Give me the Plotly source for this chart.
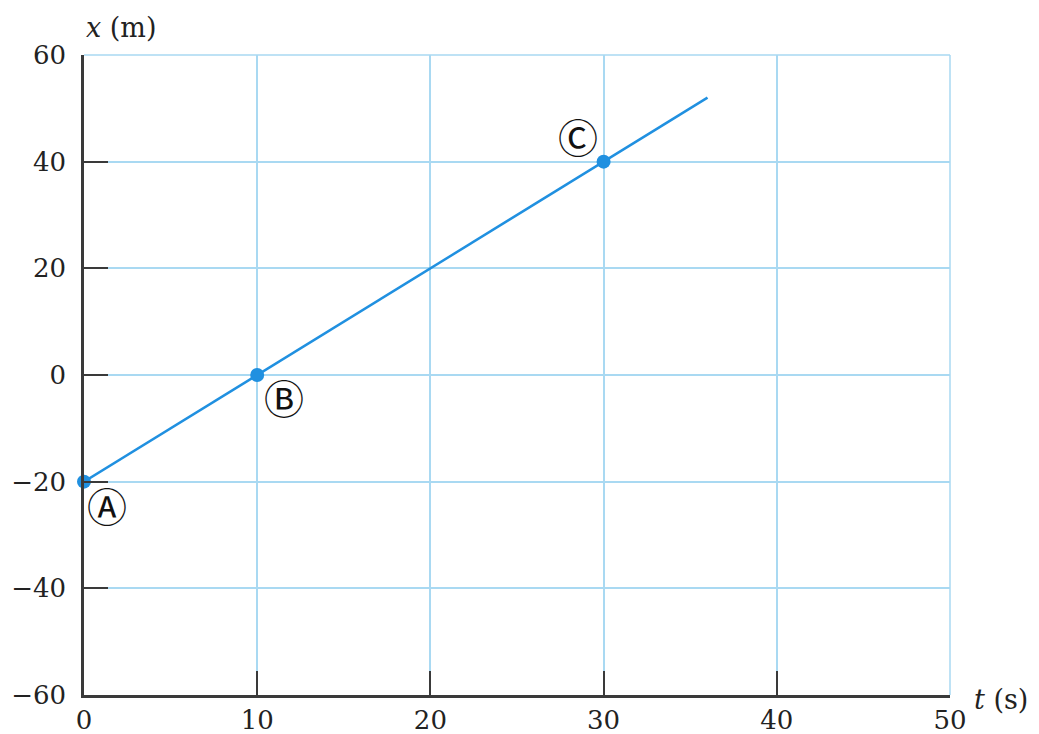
import plotly.graph_objects as go

# Data
line_t = [0, 36]
line_x = [-20, 52]
point_t = [0, 10, 30]
point_x = [-20, 0, 40]
point_labels = ["Ⓐ", "Ⓑ", "Ⓒ"]
label_t = [1.3, 11.55, 28.5]
label_x = [-25.0, -4.6, 44.3]
x_ticks = [0, 10, 20, 30, 40, 50]
y_ticks = [-60, -40, -20, 0, 20, 40, 60]

blue = "#2090e0"
grid = "#a9d9f2"
axis_col = "#3a3a3a"
font_fam = "DejaVu Serif, Liberation Serif, serif"

fig = go.Figure()
fig.add_trace(go.Scatter(x=line_t, y=line_x, mode="lines",
                         line=dict(color=blue, width=2.5), cliponaxis=False,
                         showlegend=False, hoverinfo="skip"))
fig.add_trace(go.Scatter(x=point_t, y=point_x, mode="markers",
                         marker=dict(color=blue, size=14), cliponaxis=False,
                         showlegend=False))

for lt, lx, lab in zip(label_t, label_x, point_labels):
    fig.add_annotation(x=lt, y=lx, xref="x", yref="y", text=lab, showarrow=False,
                       font=dict(family="DejaVu Sans, Noto Sans CJK SC", size=40, color="#111"))

fig.add_annotation(x=0.0, y=1.0, xref="paper", yref="paper", yanchor="bottom",
                   xanchor="left", yshift=10,
                   text="<i>x</i> (m)", showarrow=False,
                   font=dict(family=font_fam, size=27, color="#222"))
fig.add_annotation(x=1.0, y=0.0, xref="paper", yref="paper", xanchor="left",
                   yanchor="middle", xshift=22, yshift=-4,
                   text="<i>t</i> (s)", showarrow=False,
                   font=dict(family=font_fam, size=27, color="#222"))

fig.update_layout(
    width=1039, height=734,
    margin=dict(l=76, r=97, t=47, b=47, autoexpand=False),
    paper_bgcolor="white", plot_bgcolor="white",
    font=dict(family=font_fam, size=26, color="#222"),
    xaxis=dict(range=[0, 50], tickvals=x_ticks, showgrid=True, gridcolor=grid,
               gridwidth=1.5, zeroline=False, showline=True, linecolor=axis_col,
               linewidth=2.5, ticks="inside", ticklen=24, tickwidth=2,
               tickcolor=axis_col, automargin=False, ticklabelstandoff=0),
    yaxis=dict(range=[-60, 60], tickvals=y_ticks, showgrid=True, gridcolor=grid,
               gridwidth=1.5, zeroline=False, showline=True, linecolor=axis_col,
               linewidth=2.5, ticks="inside", ticklen=24, tickwidth=2,
               tickcolor=axis_col, automargin=False, ticklabelstandoff=10),
    shapes=[
        dict(type="line", xref="paper", yref="paper", x0=1, x1=1, y0=0, y1=1,
             line=dict(color=grid, width=1.5), layer="below"),
        dict(type="line", xref="paper", yref="paper", x0=0, x1=1, y0=1, y1=1,
             line=dict(color=grid, width=1.5), layer="below"),
    ],
)

fig.write_html("out.html")
